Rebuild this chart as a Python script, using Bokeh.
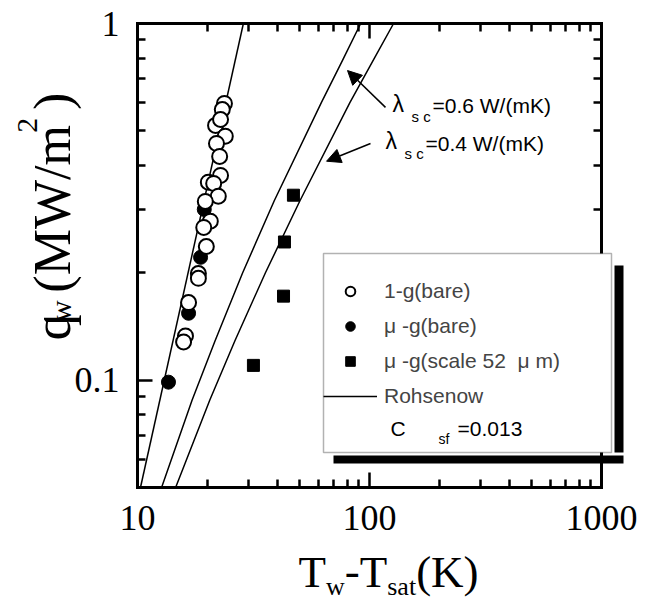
import math
from bokeh.plotting import figure
from bokeh.models import (LogAxis, FixedTicker, Legend, LegendItem, Label, Arrow,
                          NormalHead, BoxAnnotation, Range1d)
from bokeh.embed import file_html
from bokeh.resources import INLINE

# ---------------- data ----------------
open_x = [23.7, 23.2, 21.7, 22.8, 23.9, 21.9, 22.6, 22.8, 20.2, 21.3,
          22.3, 19.6, 20.6, 19.3, 19.8, 18.3, 18.3, 16.6, 16.1, 15.8]
open_y = [0.597, 0.574, 0.518, 0.538, 0.483, 0.461, 0.424, 0.375, 0.359, 0.356,
          0.328, 0.317, 0.279, 0.268, 0.237, 0.199, 0.193, 0.165, 0.133, 0.128]
solid_x = [13.6, 16.6, 18.7, 19.4]
solid_y = [0.0987, 0.154, 0.221, 0.301]
square_x = [31.6, 42.6, 43.0, 47.0]
square_y = [0.110, 0.172, 0.244, 0.330]
fit_1g_x = [10.3, 28.6]
fit_1g_y = [0.05, 1.0]
lam06_x = [12.7, 17.2, 21.6, 28.4, 38.9, 62.0, 76.5, 91.6]
lam06_y = [0.05, 0.088, 0.129, 0.2, 0.319, 0.6, 0.788, 1.0]
lam04_x = [14.6, 20.5, 26.3, 35.6, 50.2, 82.3, 105.0, 127.0]
lam04_y = [0.05, 0.088, 0.129, 0.2, 0.319, 0.6, 0.8, 1.0]

x_bounds = (10, 1000)
y_bounds = (0.05, 1.0)
x_major = [10, 100, 1000]
x_minor = [20, 30, 40, 50, 60, 70, 80, 90, 200, 300, 400, 500, 600, 700, 800, 900]
y_major = [0.1, 1.0]
y_minor = [0.05, 0.06, 0.07, 0.08, 0.09, 0.2, 0.3, 0.4, 0.5, 0.6, 0.7, 0.8, 0.9]
x_labels = {10: "10", 100: "100", 1000: "1000"}
y_labels = {0.1: "0.1", 1.0: "1"}

legend_labels = ["1-g(bare)", "\u03bc -g(bare)", "\u03bc -g(scale 52  \u03bc m)", "Rohsenow"]

SERIF = "Liberation Serif"
SANS = "Liberation Sans"

# ---------------- geometry: the axes box sits inside a full-canvas frame ----------------
W, H = 645, 602
BOX_L, BOX_R, BOX_T, BOX_B = 137, 601, 23, 487
dec_x = (BOX_R - BOX_L) / math.log10(x_bounds[1] / x_bounds[0])
dec_y = (BOX_B - BOX_T) / math.log10(y_bounds[1] / y_bounds[0])
x_start = x_bounds[0] * 10 ** (-BOX_L / dec_x)
x_end = x_bounds[1] * 10 ** ((W - BOX_R) / dec_x)
y_start = y_bounds[0] * 10 ** (-(H - BOX_B) / dec_y)
y_end = y_bounds[1] * 10 ** (BOX_T / dec_y)

p = figure(width=W, height=H, x_axis_type="log", y_axis_type="log",
           x_range=Range1d(x_start, x_end), y_range=Range1d(y_start, y_end),
           output_backend="svg", toolbar_location=None,
           min_border=0, min_border_left=0, min_border_right=0,
           min_border_top=0, min_border_bottom=0,
           background_fill_color="white", border_fill_color="white",
           outline_line_color=None)
p.grid.visible = False


def style_axis(ax, ticks, minor, labels, show_labels, loc, bounds):
    ax.fixed_location = loc
    ax.bounds = bounds
    ax.ticker = FixedTicker(ticks=ticks, minor_ticks=minor)
    ax.axis_line_color = "black"
    ax.axis_line_width = 3
    ax.axis_line_cap = "square"
    ax.major_tick_in = 15
    ax.major_tick_out = 0
    ax.minor_tick_in = 8
    ax.minor_tick_out = 0
    ax.major_tick_line_width = 2.5
    ax.minor_tick_line_width = 2.5
    ax.major_tick_line_color = "black"
    ax.minor_tick_line_color = "black"
    ax.major_label_overrides = labels
    if show_labels:
        ax.major_label_text_font = SERIF
        ax.major_label_text_font_size = "36px"
        ax.major_label_text_color = "black"
        ax.major_label_standoff = 18
    else:
        ax.major_label_text_font_size = "6px"
        ax.major_label_text_alpha = 0
        ax.major_label_standoff = 0


style_axis(p.xaxis[0], x_major, x_minor, x_labels, True, y_bounds[0], x_bounds)
style_axis(p.yaxis[0], y_major, y_minor, y_labels, True, x_bounds[0], y_bounds)
top_ax = LogAxis()
right_ax = LogAxis()
style_axis(top_ax, x_major, x_minor, x_labels, False, y_bounds[1], x_bounds)
style_axis(right_ax, y_major, y_minor, y_labels, False, x_bounds[1], y_bounds)
p.add_layout(top_ax, "above")
p.add_layout(right_ax, "right")

# ---------------- curves and points ----------------
r_fit = p.line(fit_1g_x, fit_1g_y, line_color="black", line_width=1.5)
p.line(lam06_x, lam06_y, line_color="black", line_width=1.5)
p.line(lam04_x, lam04_y, line_color="black", line_width=1.5)

r_solid = p.scatter(solid_x, solid_y, marker="circle", size=14,
                    fill_color="black", line_color="black")
r_open = p.scatter(open_x, open_y, marker="circle", size=15, fill_color="white",
                   line_color="black", line_width=2)
r_sq = p.scatter(square_x, square_y, marker="square", size=12,
                 fill_color="black", line_color="black")
r_dummy = p.line(x=[10, 10], y=[0.01, 0.01], line_alpha=0)


def box(l, r, t, b, fill, line=None, lw=0):
    # canvas pixel box -> screen units (origin bottom-left of the full frame)
    p.add_layout(BoxAnnotation(left=l, right=r, top=H - t, bottom=H - b,
                               left_units="screen", right_units="screen",
                               bottom_units="screen", top_units="screen",
                               fill_color=fill, fill_alpha=1,
                               line_color=line, line_width=lw))


# legend frame and its offset shadow bars
box(614, 623, 265, 452, "black")
box(333, 623, 455, 463, "black")
box(323, 611, 253, 452, "white", "black", 1.5)

legend = Legend(items=[
    LegendItem(label=legend_labels[0], renderers=[r_open]),
    LegendItem(label=legend_labels[1], renderers=[r_solid]),
    LegendItem(label=legend_labels[2], renderers=[r_sq]),
    LegendItem(label=legend_labels[3], renderers=[r_fit]),
    LegendItem(label=" ", renderers=[r_dummy]),
], location=(323, H - 452 + 9), margin=0, padding=11, spacing=11,
    glyph_width=54, glyph_height=24, label_width=205, label_height=24,
    label_standoff=7, label_text_font=SANS, label_text_font_size="21px",
    border_line_color=None, background_fill_alpha=0,
    title=".", title_text_font_size="6px", title_text_alpha=0, title_standoff=4)
p.add_layout(legend, "center")

ANCHOR_FIX = 0.35  # the label anchor sits this many ems above the drawn baseline


def lab(text, cx, cy, size, font=SANS, angle=0.0):
    # cx, cy: canvas pixels of the wanted text baseline start
    p.add_layout(Label(x=cx, y=H - cy + ANCHOR_FIX * size, x_units="screen", y_units="screen",
                       text=text, text_font=font, text_font_size=f"{size}px",
                       text_color="black", angle=angle,
                       text_baseline="alphabetic", text_align="left"))


# C_sf = 0.013 inside the legend
lab("C", 390, 435, 21)
lab("sf", 438, 443, 14)
lab("=0.013", 457, 435, 21)

# lambda annotations
lab("\u03bb", 392, 112, 23)
lab("s c", 411, 121, 15)
lab("=0.6 W/(mK)", 432, 112, 21)
lab("\u03bb", 385, 149, 23)
lab("s c", 404, 158, 15)
lab("=0.4 W/(mK)", 425, 150, 21)

p.add_layout(Arrow(end=NormalHead(size=14, fill_color="black", line_color="black"),
                   x_start=117.2, y_start=0.582, x_end=80.4, y_end=0.738,
                   line_width=1.5, line_color="black"))
p.add_layout(Arrow(end=NormalHead(size=14, fill_color="black", line_color="black"),
                   x_start=101.0, y_start=0.461, x_end=65.3, y_end=0.411,
                   line_width=1.5, line_color="black"))

# ---------------- axis titles (with sub/superscripts) ----------------
ADV = {"T": 611, "w": 722, "-": 333, "s": 389, "a": 444, "t": 278, "(": 333,
       "K": 722, ")": 333, "q": 500, "M": 889, "W": 944, "/": 278, "m": 778, "2": 500}


def adv(text, size):
    return sum(ADV[c] for c in text) * size / 1000.0


# x title: T_w-T_sat(K)
pos = 298.0
for text, size, shift in [("T", 45, 0), ("w", 26, 8), ("-", 45, 0), ("T", 45, 0),
                          ("sat", 26, 8), ("(K)", 45, 0)]:
    lab(text, pos, 587 + shift, size, SERIF)
    pos += adv(text, size)

# y title: q_w(MW/m^2), rotated (reads bottom to top)
A = math.pi / 2
pos = 358.0
for text, size, shift in [("q", 52, 0), ("w", 30, 8), ("(MW/m", 52, 0), ("2", 30, -25),
                          (")", 52, 0)]:
    lab(text, 52 + shift, pos, size, SERIF, A)
    pos -= adv(text, size)

open("out.html", "w").write(file_html(p, INLINE))
